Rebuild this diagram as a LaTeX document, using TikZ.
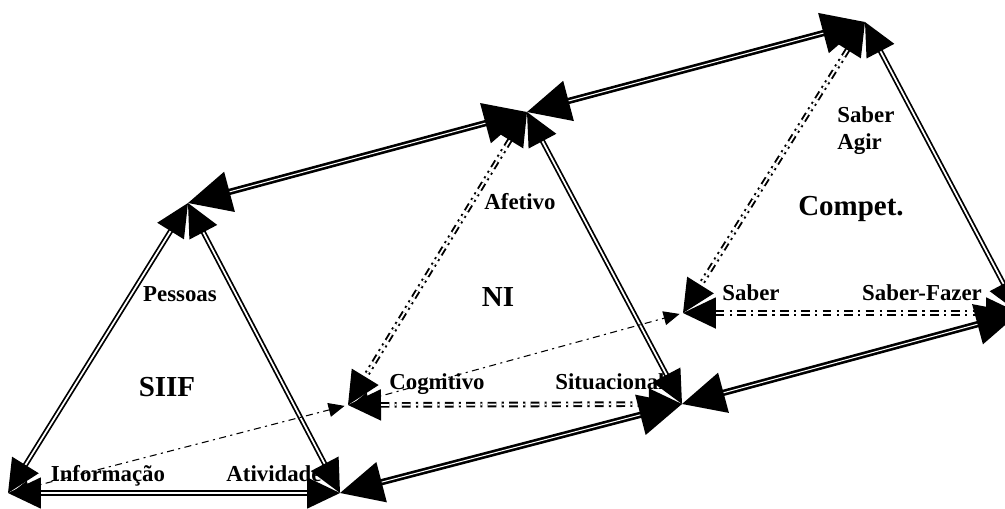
\documentclass[tikz,border=0pt]{standalone}
\usepackage{fontspec}
\setmainfont{Liberation Serif}
\usetikzlibrary{arrows.meta}

\begin{document}
\begin{tikzpicture}[
    x=0.02cm, y=-0.02cm,
    >={Triangle[length=0.66cm,width=0.62cm]},
    side/.style={<->,double,line width=1pt,double distance=1pt},
    sidedd/.style={side,line width=1.1pt,dash pattern=on 4.5pt off 2.5pt on 1.2pt off 2.5pt on 1.2pt off 2.5pt},
    sided/.style={side,line width=1.1pt,dash pattern=on 5pt off 3pt on 1.2pt off 3pt},
    link/.style={{Triangle[length=0.86cm,width=0.82cm]}-{Triangle[length=0.86cm,width=0.82cm]},
                 double,line width=1.5pt,double distance=0.6pt},
    trace/.style={{Triangle[length=0.32cm,width=0.28cm]}-{Triangle[length=0.32cm,width=0.28cm]},
                  line width=0.6pt,dash pattern=on 4pt off 2.5pt on 1.2pt off 2.5pt,
                  shorten <=3pt,shorten >=2pt},
    lbl/.style={font=\fontsize{13}{15.5}\selectfont\bfseries,inner sep=0pt,anchor=base},
    ttl/.style={font=\fontsize{16.5}{19}\selectfont\bfseries,inner sep=0pt,anchor=base}
  ]
  \useasboundingbox (0,0) rectangle (1005,508);
  \clip (0,0) rectangle (1005,508);
  \coordinate (pes) at (188,203);
  \coordinate (inf) at (8,493);
  \coordinate (ati) at (340,493);
  \coordinate (afe) at (527,112);
  \coordinate (cog) at (348,405);
  \coordinate (sit) at (682,404);
  \coordinate (agi) at (865,22);
  \coordinate (sab) at (683,313);
  \coordinate (faz) at (1019,313);
  \node[lbl] (tpes) at (180,301) {Pessoas};
  \node[ttl] (siif) at (167,396) {SIIF};
  \node[lbl] (tinf) at (108,481) {Informação};
  \node[lbl] (tati) at (274,481) {Atividade};
  \node[lbl] (tafe) at (520,209) {Afetivo};
  \node[ttl] (ni)   at (498,306) {NI};
  \node[lbl] (tcog) at (437,389) {Cognitivo};
  \node[lbl] (tsit) at (610,389) {Situacional};
  \node[lbl,anchor=north west,align=left] (tagi) at (837,106) {Saber\\Agir};
  \node[ttl] (comp) at (851,215) {Compet.};
  \node[lbl] (tsab) at (751,300) {Saber};
  \node[lbl] (tfaz) at (922,300) {Saber-Fazer};
  \draw[side]   (pes) -- (inf);
  \draw[side]   (pes) -- (ati);
  \draw[side]   (inf) -- (ati);
  \draw[sidedd] (afe) -- (cog);
  \draw[side]   (afe) -- (sit);
  \draw[sided]  (cog) -- (sit);
  \draw[sidedd] (agi) -- (sab);
  \draw[side]   (agi) -- (faz);
  \draw[sided]  (sab) -- (faz);
  \draw[link]   (pes) -- (afe);
  \draw[link]   (afe) -- (agi);
  \draw[link]   (ati) -- (sit);
  \draw[link]   (sit) -- (faz);
  \draw[trace]  (inf) -- (cog);
  \draw[trace]  (cog) -- (sab);
\end{tikzpicture}
\end{document}
